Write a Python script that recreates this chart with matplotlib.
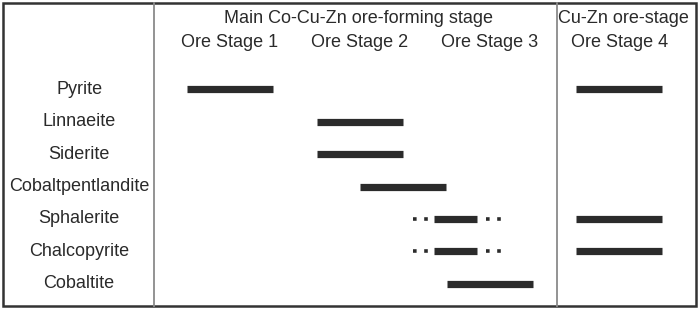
import matplotlib.pyplot as plt
from matplotlib.patches import Rectangle

plt.rcParams['font.family'] = ['Liberation Sans', 'DejaVu Sans']

# Paragenetic sequence: minerals and their occurrence spans in stage units
# (stage k spans k-1 .. k)
minerals = ["Pyrite", "Linnaeite", "Siderite", "Cobaltpentlandite",
            "Sphalerite", "Chalcopyrite", "Cobaltite"]
# main solid spans, (mineral index, start, end)
solid_spans = [
    (0, 0.17, 0.83), (0, 3.16, 3.82),
    (1, 1.17, 1.83),
    (2, 1.17, 1.83),
    (3, 1.50, 2.16),
    (4, 2.07, 2.40), (4, 3.16, 3.82),
    (5, 2.07, 2.40), (5, 3.16, 3.82),
    (6, 2.17, 2.83),
]
# uncertain (dotted) spans either side of the solid ones
dotted_spans = [(4, 1.91, 2.02), (4, 2.47, 2.59),
                (5, 1.91, 2.02), (5, 2.47, 2.59)]

stage_labels = ["Ore Stage 1", "Ore Stage 2", "Ore Stage 3", "Ore Stage 4"]
stage_centers = [0.5, 1.5, 2.5, 3.5]
group_labels = ["Main Co-Cu-Zn ore-forming stage", "Cu-Zn ore-stage"]
group_centers = [1.49, 3.53]

fig = plt.figure(figsize=(6.99, 3.09), dpi=100)
ax = fig.add_axes([0, 0, 1, 1])
ax.set_xlim(-1.269, 4.108)
ax.set_ylim(6.77, -2.74)
ax.axis("off")

dark = "#2b2b2b"
for row, x0, x1 in dotted_spans:
    ax.plot([x0, x1], [row, row], color=dark, lw=2.6,
            dashes=(1, 2.1), dash_capstyle="butt")
for row, x0, x1 in solid_spans:
    ax.plot([x0, x1], [row, row], color=dark, lw=5.2, solid_capstyle="butt")

txt = "#2a2a2a"
for i, name in enumerate(minerals):
    ax.text(-0.66, i, name, ha="center", va="center", fontsize=13, color=txt)
for c, lab in zip(stage_centers, stage_labels):
    ax.text(c, -1.42, lab, ha="center", va="center", fontsize=13, color=txt)
for c, lab in zip(group_centers, group_labels):
    ax.text(c, -2.17, lab, ha="center", va="center", fontsize=13, color=txt)

# frame and stage dividers
ax.add_patch(Rectangle((0.0043, 0.0097), 0.9914, 0.9806, transform=ax.transAxes,
                       fill=False, ec="#333333", lw=1.8))
ax.plot([-0.085, -0.085], [-2.66, 6.69], color="#8a8a8a", lw=1.3)
ax.plot([3.015, 3.015], [-2.66, 6.69], color="#8a8a8a", lw=1.3)

fig.savefig("out.png", dpi=100)
